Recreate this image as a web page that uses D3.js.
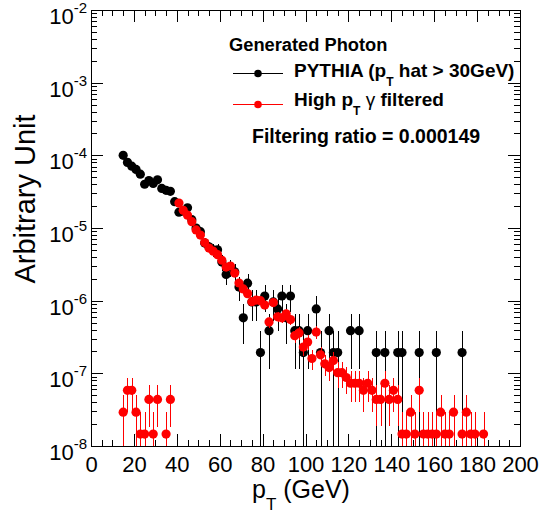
<!DOCTYPE html>
<html>
<head>
<meta charset="utf-8">
<script src="https://cdn.jsdelivr.net/npm/d3@7"></script>
<style>
  html, body { margin: 0; padding: 0; background: #fff; }
  svg { display: block; }
  text { font-family: "Liberation Sans", Arial, Helvetica, sans-serif; }
</style>
</head>
<body>
<svg id="chart" width="540" height="513"></svg>
<script>
// ---------- data ----------
const xMajorTicks = [0, 20, 40, 60, 80, 100, 120, 140, 160, 180, 200];
const yDecades = [1e-8, 1e-7, 1e-6, 1e-5, 1e-4, 1e-3, 1e-2];
const yDecadeExponents = ["-8", "-7", "-6", "-5", "-4", "-3", "-2"];

const legendTitle = "Generated Photon";
const seriesNames = ["PYTHIA (p_T hat > 30GeV)", "High p_T \u03b3 filtered"];
const ratioText = "Filtering ratio = 0.000149";

// PYTHIA (black)
const blackPt = [15,17,19,21,23,25,27,29,31,33,35,37,39,41,43,45,47,49,51,53,55,57,59,61,63,65,67,69,71,73,75,77,79,81,83,85,87,89,91,93,95,97,99,101,105,107,111,113,115,121,125,133,137,143,145,153,161,173];
const blackVal = [1.0e-4,8.0e-5,7.1e-5,6.4e-5,5.5e-5,4.0e-5,4.5e-5,4.1e-5,4.6e-5,3.5e-5,3.3e-5,3.2e-5,2.3e-5,1.65e-5,1.7e-5,1.9e-5,1.3e-5,1.0e-5,8.9e-6,6.2e-6,5.5e-6,5.0e-6,5.0e-6,3.4e-6,2.3e-6,2.9e-6,2.5e-6,1.54e-6,5.8e-7,1.74e-6,9.6e-7,9.6e-7,1.93e-7,1.16e-6,3.86e-7,9.6e-7,7.7e-7,1.16e-6,5.8e-7,1.16e-6,3.86e-7,3.86e-7,1.93e-7,3.86e-7,7.7e-7,1.93e-7,3.86e-7,1.93e-7,1.93e-7,3.86e-7,3.86e-7,1.93e-7,1.93e-7,1.93e-7,1.93e-7,1.93e-7,1.93e-7,1.93e-7];
const blackErr = [4.4e-6,3.9e-6,3.7e-6,3.5e-6,3.3e-6,2.8e-6,2.95e-6,2.8e-6,3.0e-6,2.6e-6,2.5e-6,2.5e-6,2.1e-6,1.8e-6,1.8e-6,1.9e-6,1.6e-6,1.4e-6,1.3e-6,1.1e-6,1.0e-6,9.8e-7,9.8e-7,8.1e-7,6.7e-7,7.5e-7,6.9e-7,5.5e-7,3.3e-7,5.8e-7,4.3e-7,4.3e-7,1.93e-7,4.7e-7,2.7e-7,4.3e-7,3.9e-7,4.7e-7,3.3e-7,4.7e-7,2.7e-7,2.7e-7,1.93e-7,2.7e-7,3.9e-7,1.93e-7,2.7e-7,1.93e-7,1.93e-7,2.7e-7,2.7e-7,1.93e-7,1.93e-7,1.93e-7,1.93e-7,1.93e-7,1.93e-7,1.93e-7];

// High pT gamma filtered (red)
const redPt = [15,17,19,21,23,25,27,29,31,35,37,41,43,45,47,49,51,53,55,57,59,61,63,65,67,69,71,73,75,77,79,81,83,85,87,89,91,93,95,97,99,101,103,105,107,109,111,113,115,117,119,121,123,125,127,129,131,133,135,137,139,141,143,145,147,149,151,153,155,157,159,161,163,165,167,169,173,175,177,179,183];
const redVal = [2.92e-8,5.84e-8,5.84e-8,2.92e-8,1.46e-8,1.46e-8,4.38e-8,1.46e-8,4.38e-8,1.46e-8,4.38e-8,2.2e-5,1.75e-5,1.5e-5,1.22e-5,9.4e-6,8.0e-6,6.3e-6,5.3e-6,4.8e-6,4.3e-6,3.6e-6,2.9e-6,3.0e-6,2.4e-6,1.75e-6,1.45e-6,1.25e-6,9.7e-7,1.02e-6,1.0e-6,8.7e-7,5.1e-7,9.4e-7,6.0e-7,5.8e-7,6.6e-7,5.5e-7,3.3e-7,3.6e-7,2.3e-7,2.7e-7,1.6e-7,3.7e-7,1.8e-7,1.35e-7,1.2e-7,1.5e-7,1.02e-7,1.02e-7,8.76e-8,7.3e-8,7.3e-8,7.3e-8,5.84e-8,7.3e-8,5.84e-8,4.38e-8,4.38e-8,7.3e-8,4.38e-8,5.84e-8,4.38e-8,1.46e-8,1.46e-8,2.92e-8,1.46e-8,5.84e-8,1.46e-8,1.46e-8,1.46e-8,1.46e-8,2.92e-8,1.46e-8,1.46e-8,2.92e-8,1.46e-8,2.92e-8,1.46e-8,1.46e-8,1.46e-8];
const redErr = [2.06e-8,2.92e-8,2.92e-8,2.06e-8,1.46e-8,1.46e-8,2.53e-8,1.46e-8,2.53e-8,1.46e-8,2.53e-8,5.7e-7,5.1e-7,4.7e-7,4.2e-7,3.7e-7,3.4e-7,3.0e-7,2.8e-7,2.6e-7,2.5e-7,2.3e-7,2.1e-7,2.1e-7,1.9e-7,1.6e-7,1.45e-7,1.35e-7,1.19e-7,1.22e-7,1.21e-7,1.13e-7,8.6e-8,1.17e-7,9.4e-8,9.2e-8,9.8e-8,9.0e-8,6.9e-8,7.3e-8,5.8e-8,6.3e-8,4.8e-8,7.3e-8,5.1e-8,4.4e-8,4.2e-8,4.7e-8,3.9e-8,3.9e-8,3.6e-8,3.3e-8,3.3e-8,3.3e-8,2.9e-8,3.3e-8,2.9e-8,2.5e-8,2.5e-8,3.3e-8,2.5e-8,2.9e-8,2.5e-8,1.46e-8,1.46e-8,2.06e-8,1.46e-8,2.9e-8,1.46e-8,1.46e-8,1.46e-8,1.46e-8,2.06e-8,1.46e-8,1.46e-8,2.06e-8,1.46e-8,2.06e-8,1.46e-8,1.46e-8,1.46e-8];

// ---------- layout ----------
const L = 91, R = 520, T = 10, B = 446;
const svg = d3.select("#chart");
const x = d3.scaleLinear().domain([0, 200]).range([L, R]);
const y = d3.scaleLog().domain([1e-8, 1e-2]).range([B, T]);

const xMinor = d3.range(0, 201, 5).filter(v => v % 20 !== 0);
const yMinor = [];
for (let e = -8; e < -2; e++) for (let k = 2; k <= 9; k++) yMinor.push(k * Math.pow(10, e));

function axisStyle(g) {
  g.select(".domain").remove();
  g.selectAll(".tick line").attr("stroke", "#000").attr("shape-rendering", "crispEdges");
  g.selectAll(".tick text").remove();
}

// ticks on all four sides, pointing inward
svg.append("g").attr("transform", `translate(0,${B})`).call(d3.axisBottom(x).tickValues(xMajorTicks).tickSize(-12)).call(axisStyle);
svg.append("g").attr("transform", `translate(0,${B})`).call(d3.axisBottom(x).tickValues(xMinor).tickSize(-6)).call(axisStyle);
svg.append("g").attr("transform", `translate(0,${T})`).call(d3.axisTop(x).tickValues(xMajorTicks).tickSize(-12)).call(axisStyle);
svg.append("g").attr("transform", `translate(0,${T})`).call(d3.axisTop(x).tickValues(xMinor).tickSize(-6)).call(axisStyle);
svg.append("g").attr("transform", `translate(${L},0)`).call(d3.axisLeft(y).tickValues(yDecades).tickSize(-12)).call(axisStyle);
svg.append("g").attr("transform", `translate(${L},0)`).call(d3.axisLeft(y).tickValues(yMinor).tickSize(-6)).call(axisStyle);
svg.append("g").attr("transform", `translate(${R},0)`).call(d3.axisRight(y).tickValues(yDecades).tickSize(-12)).call(axisStyle);
svg.append("g").attr("transform", `translate(${R},0)`).call(d3.axisRight(y).tickValues(yMinor).tickSize(-6)).call(axisStyle);

// frame
svg.append("rect").attr("x", L + 0.5).attr("y", T + 0.5).attr("width", R - L).attr("height", B - T)
  .attr("fill", "none").attr("stroke", "#000").attr("stroke-width", 1).attr("shape-rendering", "crispEdges");

// x tick labels
const xl = svg.append("g").attr("transform", `translate(0,${B})`)
  .call(d3.axisBottom(x).tickValues(xMajorTicks).tickSize(0).tickPadding(10.5).tickFormat(d3.format("d")));
xl.select(".domain").remove();
xl.selectAll("text").attr("font-size", 22).attr("fill", "#000")
  .style("font-family", '"Liberation Sans", Arial, sans-serif');

// y tick labels (10^n)
const yl = svg.append("g");
yDecades.forEach((v, i) => {
  const t = yl.append("text").attr("x", 87).attr("y", y(v) + 14).attr("text-anchor", "end")
    .attr("font-size", 22).attr("fill", "#000");
  t.append("tspan").text("10");
  t.append("tspan").attr("font-size", 15).attr("dy", -11).text(yDecadeExponents[i]);
});

// axis titles
const xt = svg.append("text").attr("x", 252).attr("y", 498).attr("font-size", 25).attr("fill", "#000");
xt.append("tspan").text("p");
xt.append("tspan").attr("font-size", 17).attr("dy", 12).text("T");
xt.append("tspan").attr("dy", -12).text(" (GeV)");

svg.append("text").attr("transform", "translate(35,199) rotate(-90)").attr("text-anchor", "middle")
  .attr("font-size", 29).attr("fill", "#000").text("Arbitrary Unit");

// ---------- data marks ----------
function drawSeries(pts, vals, errs, color) {
  const data = pts.map((p, i) => ({ p, v: vals[i], e: errs[i] }));
  const g = svg.append("g");
  g.selectAll("line").data(data).join("line")
    .attr("x1", d => Math.round(x(d.p)) + 0.5).attr("x2", d => Math.round(x(d.p)) + 0.5)
    .attr("y1", d => y(Math.min(d.v + d.e, 1e-2)))
    .attr("y2", d => (d.v - d.e) > 1e-8 ? y(d.v - d.e) : B)
    .attr("stroke", color).attr("stroke-width", 1).attr("shape-rendering", "crispEdges");
  g.selectAll("circle").data(data).join("circle")
    .attr("cx", d => x(d.p)).attr("cy", d => y(d.v)).attr("r", 4.6).attr("fill", color);
}
drawSeries(blackPt, blackVal, blackErr, "#000");
drawSeries(redPt, redVal, redErr, "#ff0000");

// ---------- legend ----------
const lg = svg.append("g").attr("font-weight", "bold").attr("fill", "#000");
lg.append("text").attr("x", 229).attr("y", 51).attr("font-size", 18.3).text(legendTitle);

function legendEntry(yy, textY, color, name) {
  svg.append("line").attr("x1", 233).attr("x2", 283).attr("y1", yy).attr("y2", yy)
    .attr("stroke", color).attr("stroke-width", 1).attr("shape-rendering", "crispEdges");
  svg.append("circle").attr("cx", 258).attr("cy", yy).attr("r", 3.8).attr("fill", color);
  const parts = name.split("_T");
  const t = lg.append("text").attr("x", 294).attr("y", textY).attr("font-size", 19);
  t.append("tspan").text(parts[0]);
  t.append("tspan").attr("font-size", 12).attr("dy", 8.5).text("T");
  const rest = parts[1];
  if (rest.indexOf("\u03b3") >= 0) {
    t.append("tspan").attr("dy", -8.5).text(" ");
    t.append("tspan").attr("font-weight", "normal").text("\u03b3");
    t.append("tspan").text(rest.split("\u03b3")[1]);
  } else {
    t.append("tspan").attr("dy", -8.5).text(rest);
  }
}
legendEntry(73.5, 77, "#000", seriesNames[0]);
legendEntry(104.5, 106, "#ff0000", seriesNames[1]);

lg.append("text").attr("x", 252).attr("y", 143).attr("font-size", 19.5).text(ratioText);
</script>
</body>
</html>
